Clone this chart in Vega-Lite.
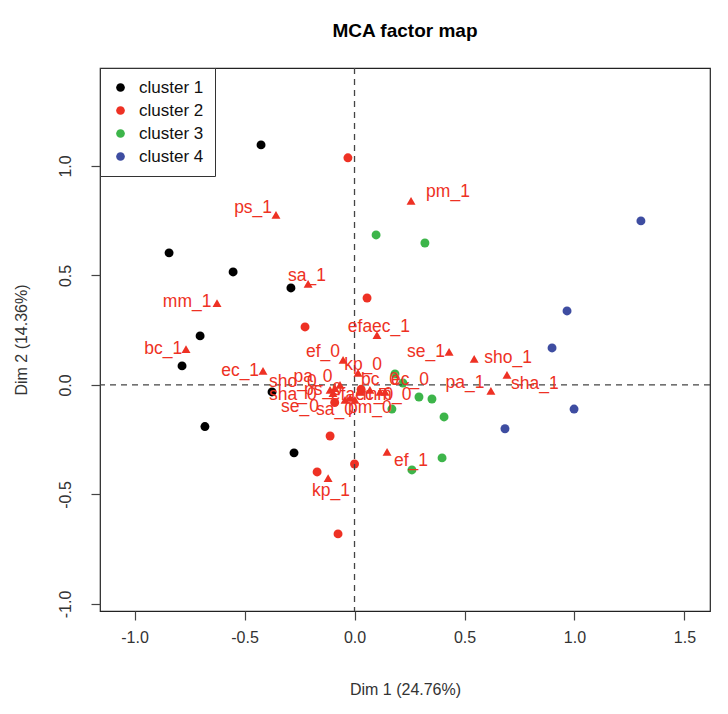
{
  "$schema": "https://vega.github.io/schema/vega-lite/v6.json",
  "width": 610,
  "height": 543,
  "autosize": {"type": "none"},
  "padding": {"left": 100, "top": 68, "right": 18, "bottom": 103},
  "title": {"text": "MCA factor map", "fontSize": 19, "fontWeight": "bold", "font": "Liberation Sans", "offset": 26, "color": "#000"},
  "config": {"view": {"stroke": "#222", "strokeWidth": 1.2}, "font": "Liberation Sans"},
  "datasets": {
    "ind": [
      {"x": -0.425, "y": 1.096, "cluster": "cluster 1"},
      {"x": -0.843, "y": 0.603, "cluster": "cluster 1"},
      {"x": -0.552, "y": 0.516, "cluster": "cluster 1"},
      {"x": -0.289, "y": 0.443, "cluster": "cluster 1"},
      {"x": -0.702, "y": 0.224, "cluster": "cluster 1"},
      {"x": -0.784, "y": 0.087, "cluster": "cluster 1"},
      {"x": -0.375, "y": -0.032, "cluster": "cluster 1"},
      {"x": -0.680, "y": -0.19, "cluster": "cluster 1"},
      {"x": -0.275, "y": -0.31, "cluster": "cluster 1"},
      {"x": -0.03, "y": 1.037, "cluster": "cluster 2"},
      {"x": 0.057, "y": 0.397, "cluster": "cluster 2"},
      {"x": -0.225, "y": 0.265, "cluster": "cluster 2"},
      {"x": -0.111, "y": -0.233, "cluster": "cluster 2"},
      {"x": -0.170, "y": -0.397, "cluster": "cluster 2"},
      {"x": 0.0, "y": -0.361, "cluster": "cluster 2"},
      {"x": -0.075, "y": -0.68, "cluster": "cluster 2"},
      {"x": -0.09, "y": -0.08, "cluster": "cluster 2"},
      {"x": 0.03, "y": -0.02, "cluster": "cluster 2"},
      {"x": 0.098, "y": 0.685, "cluster": "cluster 3"},
      {"x": 0.32, "y": 0.648, "cluster": "cluster 3"},
      {"x": 0.184, "y": 0.050, "cluster": "cluster 3"},
      {"x": 0.22, "y": 0.009, "cluster": "cluster 3"},
      {"x": 0.293, "y": -0.055, "cluster": "cluster 3"},
      {"x": 0.352, "y": -0.064, "cluster": "cluster 3"},
      {"x": 0.170, "y": -0.110, "cluster": "cluster 3"},
      {"x": 0.407, "y": -0.146, "cluster": "cluster 3"},
      {"x": 0.261, "y": -0.388, "cluster": "cluster 3"},
      {"x": 0.398, "y": -0.333, "cluster": "cluster 3"},
      {"x": 1.302, "y": 0.749, "cluster": "cluster 4"},
      {"x": 0.966, "y": 0.338, "cluster": "cluster 4"},
      {"x": 0.898, "y": 0.169, "cluster": "cluster 4"},
      {"x": 0.998, "y": -0.11, "cluster": "cluster 4"},
      {"x": 0.684, "y": -0.2, "cluster": "cluster 4"}
    ],
    "cat": [
      {"name": "ps_1", "x": -0.357, "y": 0.776, "lx": -0.461, "ly": 0.808},
      {"name": "pm_1", "x": 0.257, "y": 0.840, "lx": 0.425, "ly": 0.881},
      {"name": "sa_1", "x": -0.211, "y": 0.461, "lx": -0.216, "ly": 0.498},
      {"name": "mm_1", "x": -0.625, "y": 0.374, "lx": -0.761, "ly": 0.379},
      {"name": "bc_1", "x": -0.766, "y": 0.164, "lx": -0.870, "ly": 0.164},
      {"name": "ec_1", "x": -0.416, "y": 0.064, "lx": -0.520, "ly": 0.064},
      {"name": "efaec_1", "x": 0.102, "y": 0.228, "lx": 0.111, "ly": 0.265},
      {"name": "se_1", "x": 0.43, "y": 0.151, "lx": 0.325, "ly": 0.151},
      {"name": "sho_1", "x": 0.544, "y": 0.119, "lx": 0.698, "ly": 0.123},
      {"name": "pa_1", "x": 0.620, "y": -0.027, "lx": 0.502, "ly": 0.009},
      {"name": "sha_1", "x": 0.693, "y": 0.046, "lx": 0.820, "ly": 0.005},
      {"name": "ef_1", "x": 0.148, "y": -0.306, "lx": 0.257, "ly": -0.347},
      {"name": "kp_1", "x": -0.12, "y": -0.425, "lx": -0.107, "ly": -0.484},
      {"name": "ef_0", "x": -0.052, "y": 0.114, "lx": -0.143, "ly": 0.151},
      {"name": "kp_0", "x": 0.016, "y": 0.055, "lx": 0.039, "ly": 0.091},
      {"name": "pa_0", "x": -0.089, "y": -0.014, "lx": -0.189, "ly": 0.037},
      {"name": "bc_0", "x": 0.07, "y": -0.023, "lx": 0.116, "ly": 0.023},
      {"name": "ec_0", "x": 0.139, "y": -0.032, "lx": 0.252, "ly": 0.023},
      {"name": "sho_0", "x": -0.066, "y": 0.0, "lx": -0.280, "ly": 0.014},
      {"name": "sha_0", "x": -0.098, "y": -0.037, "lx": -0.280, "ly": -0.046},
      {"name": "se_0", "x": -0.043, "y": -0.068, "lx": -0.248, "ly": -0.100},
      {"name": "sa_0", "x": -0.02, "y": -0.059, "lx": -0.089, "ly": -0.114},
      {"name": "pm_0", "x": 0.002, "y": -0.068, "lx": 0.07, "ly": -0.105},
      {"name": "mm_0", "x": 0.116, "y": -0.032, "lx": 0.148, "ly": -0.046},
      {"name": "ps_0", "x": -0.111, "y": -0.023, "lx": -0.143, "ly": -0.023},
      {"name": "efaec_0", "x": 0.025, "y": -0.032, "lx": 0.034, "ly": -0.046}
    ]
  },
  "layer": [
    {
      "data": {"name": "ind"},
      "mark": {"type": "point", "filled": true, "shape": "circle", "size": 80, "opacity": 1},
      "encoding": {
        "x": {"field": "x", "type": "quantitative",
          "scale": {"domain": [-1.157, 1.616], "nice": false, "zero": false},
          "axis": {"title": "Dim 1 (24.76%)", "values": [-1, -0.5, 0, 0.5, 1, 1.5],
            "labelExpr": "replace(format(datum.value, '.1f'), '\u2212', '-')",
            "grid": false, "domain": false, "tickSize": 9, "tickColor": "#444", "tickWidth": 1.2,
            "labelFontSize": 16, "labelColor": "#333", "labelPadding": 9,
            "titleFontSize": 16, "titleFontWeight": "normal", "titleColor": "#333", "titlePadding": 36}},
        "y": {"field": "y", "type": "quantitative",
          "scale": {"domain": [-1.032, 1.447], "nice": false, "zero": false},
          "axis": {"title": "Dim 2 (14.36%)", "values": [-1, -0.5, 0, 0.5, 1],
            "labelExpr": "replace(format(datum.value, '.1f'), '\u2212', '-')",
            "grid": false, "domain": false, "tickSize": 9, "tickColor": "#444", "tickWidth": 1.2,
            "labelAngle": -90, "labelAlign": "center", "labelBaseline": "bottom",
            "labelFontSize": 16, "labelColor": "#333", "labelPadding": 18,
            "titleFontSize": 16, "titleFontWeight": "normal", "titleColor": "#333", "titlePadding": 28}},
        "color": {"field": "cluster", "type": "nominal",
          "scale": {"domain": ["cluster 1", "cluster 2", "cluster 3", "cluster 4"], "range": ["#000000", "#EE3124", "#3DB54A", "#3E4DA1"]},
          "legend": {"orient": "none", "legendX": 0, "legendY": 0, "title": null,
            "strokeColor": "#333", "fillColor": "#ffffff", "padding": 11,
            "labelFontSize": 17, "labelColor": "#111", "symbolSize": 75, "symbolType": "circle",
            "symbolStrokeWidth": 0, "rowPadding": 5, "labelOffset": 10, "symbolOffset": 1}}
      }
    },
    {
      "data": {"values": [{"v": 0}]},
      "mark": {"type": "rule", "strokeDash": [6, 5], "color": "#444", "strokeWidth": 1.3},
      "encoding": {"x": {"field": "v", "type": "quantitative"}}
    },
    {
      "data": {"values": [{"v": 0}]},
      "mark": {"type": "rule", "strokeDash": [6, 5], "color": "#444", "strokeWidth": 1.3},
      "encoding": {"y": {"field": "v", "type": "quantitative"}}
    },
    {
      "data": {"name": "cat"},
      "mark": {"type": "point", "filled": true, "shape": "triangle-up", "size": 80, "color": "#EE3124", "opacity": 1},
      "encoding": {
        "x": {"field": "x", "type": "quantitative"},
        "y": {"field": "y", "type": "quantitative"}
      }
    },
    {
      "data": {"name": "cat"},
      "mark": {"type": "text", "fontSize": 17.5, "color": "#EE3124", "align": "center", "baseline": "middle", "font": "Liberation Sans"},
      "encoding": {
        "x": {"field": "lx", "type": "quantitative"},
        "y": {"field": "ly", "type": "quantitative"},
        "text": {"field": "name"}
      }
    }
  ]
}
